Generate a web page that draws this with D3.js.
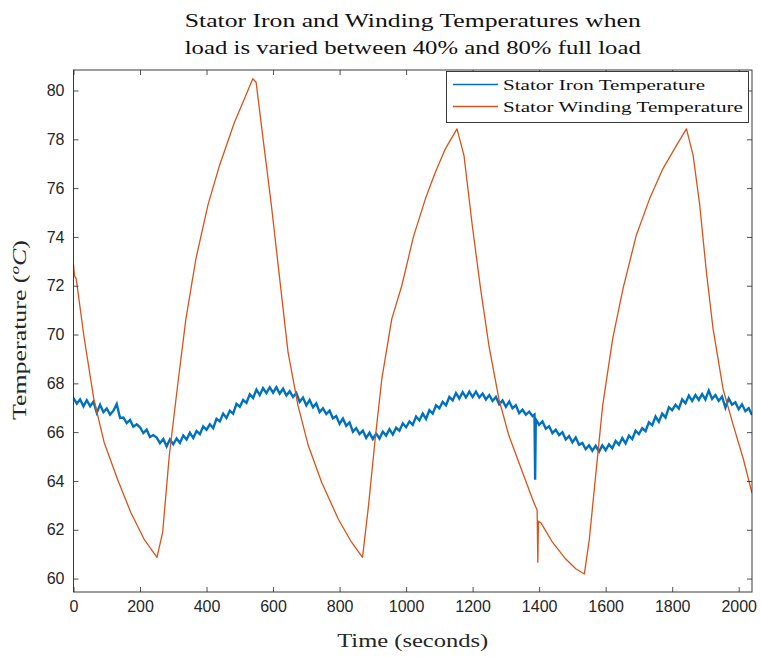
<!DOCTYPE html>
<html>
<head>
<meta charset="utf-8">
<script src="https://cdn.jsdelivr.net/npm/d3@7"></script>
<style>
body { margin:0; background:#fff; }
</style>
</head>
<body>
<svg id="chart" width="761" height="657"></svg>
<script>
var ironStart = 0, ironStep = 10;
var ironTemp = [
  67.40, 67.17, 67.34, 67.06, 67.31,  67.06, 67.25, 66.80, 67.12, 66.82,
  66.97, 66.72, 66.88, 67.15, 66.58,  66.60, 66.37, 66.50, 66.22, 66.32,
  66.20, 65.96, 66.10, 65.80, 65.88,  65.78, 65.55, 65.72, 65.42, 65.70,
  65.50, 65.74, 65.56, 65.86, 65.70,  65.98, 65.76, 66.05, 65.92, 66.24,
  66.10, 66.32, 66.16, 66.55, 66.44,  66.76, 66.58, 66.88, 66.76, 67.16,
  67.04, 67.32, 67.20, 67.55, 67.40,  67.74, 67.52, 67.80, 67.60, 67.84,
  67.62, 67.84, 67.58, 67.78, 67.50,  67.68, 67.44, 67.60, 67.24, 67.42,
  67.10, 67.32, 67.02, 67.18, 66.82,  66.98, 66.74, 66.88, 66.56, 66.66,
  66.34, 66.56, 66.26, 66.40, 66.02,  66.16, 65.92, 66.06, 65.76, 65.98,
  65.72, 65.94, 65.74, 66.02, 65.86,  66.12, 65.90, 66.18, 66.06, 66.36,
  66.20, 66.44, 66.30, 66.64, 66.48,  66.76, 66.54, 66.90, 66.76, 67.10,
  66.98, 67.24, 67.10, 67.44, 67.30,  67.60, 67.38, 67.64, 67.42, 67.66,
  67.44, 67.66, 67.42, 67.58, 67.34,  67.52, 67.28, 67.44, 67.14, 67.30,
  67.04, 67.26, 66.98, 67.10, 66.78,  66.92, 66.72, 66.84, 66.66,
  66.52, 66.30, 66.44, 66.14, 66.24, 65.96,
  66.10, 65.88, 66.00, 65.70, 65.84,  65.58, 65.78, 65.48, 65.56, 65.30,
  65.46, 65.24, 65.44, 65.20, 65.46,  65.26, 65.50, 65.34, 65.64, 65.48,
  65.76, 65.54, 65.86, 65.72, 66.06,  65.92, 66.16, 66.04, 66.40, 66.28,
  66.64, 66.42, 66.76, 66.60, 67.02,  66.90, 67.12, 66.96, 67.34, 67.18,
  67.50, 67.28, 67.52, 67.32, 67.56,  67.34, 67.70, 67.36, 67.52, 67.28,
  67.46, 67.00, 67.38, 67.12, 67.22,  66.94, 67.14, 66.86, 66.98, 66.70
];
var ironSpike = [[1386, 66.72], [1388, 64.05]];

var windingTime = [0, 3, 8, 31, 61, 92, 132, 172, 212, 251, 268, 288, 313, 338, 368, 404, 439, 484, 514, 539,
  549, 570, 595, 620, 645, 675, 706, 746, 796, 836, 869, 887, 907, 927, 957, 987, 1022, 1058, 1088, 1118, 1153,
  1174, 1199, 1224, 1249, 1279, 1309, 1350, 1380, 1394, 1396, 1398, 1405, 1440, 1480, 1511, 1536,
  1551, 1571, 1591, 1621, 1652, 1692, 1732, 1772, 1813, 1843, 1863, 1883, 1903, 1923, 1953, 1984, 2014, 2040];
var windingTemp = [72.88, 72.40, 72.30, 69.96, 67.36, 65.59, 64.08, 62.72, 61.62, 60.87, 61.89, 65.04, 67.91, 70.64, 73.10, 75.29, 76.93, 78.70, 79.66, 80.48,
  80.34, 78.02, 75.29, 72.28, 69.28, 67.09, 65.45, 63.95, 62.44, 61.49, 60.87, 62.99, 65.72, 68.18, 70.64, 72.00, 74.00, 75.56, 76.65, 77.61, 78.43,
  77.34, 74.47, 71.87, 69.55, 67.36, 65.86, 64.36, 63.26, 62.80, 60.67, 62.35, 62.29, 61.49, 60.80, 60.39, 60.19,
  61.62, 64.36, 67.09, 69.82, 71.87, 74.06, 75.56, 76.79, 77.75, 78.43, 77.34, 75.29, 72.55, 70.23, 67.77, 66.27, 64.90, 63.50];

var xTicks = [0, 200, 400, 600, 800, 1000, 1200, 1400, 1600, 1800, 2000];
var yTicks = [60, 62, 64, 66, 68, 70, 72, 74, 76, 78, 80];
var seriesNames = ["Stator Iron Temperature", "Stator Winding Temperature"];
var seriesColors = ["#0072BD", "#D95319"];
var titleLines = ["Stator Iron and Winding Temperatures when", "load is varied between 40% and 80% full load"];

var svg = d3.select("#chart");
var pL = 73.5, pT = 70, pR = 752, pB = 592;
var serif = "'Liberation Serif', 'DejaVu Serif', serif";
var sans = "'Liberation Sans', Arial, sans-serif";

var x = d3.scaleLinear().domain([0, 2040]).range([pL, pR]);
var y = d3.scaleLinear().domain([59.45, 80.84]).range([pB, pT]);

svg.append("defs").append("clipPath").attr("id", "plotclip")
  .append("rect").attr("x", pL).attr("y", pT).attr("width", pR - pL).attr("height", pB - pT);

// series
var ironPts = ironTemp.map(function(v, i) { return [ironStart + i * ironStep, v]; })
  .concat(ironSpike)
  .sort(function(a, b) { return a[0] - b[0]; });
var windPts = windingTime.map(function(t, i) { return [t, windingTemp[i]]; });

var line = d3.line().x(function(d) { return x(d[0]); }).y(function(d) { return y(d[1]); });

var plot = svg.append("g").attr("clip-path", "url(#plotclip)");
plot.append("path").datum(ironPts).attr("d", line)
  .attr("fill", "none").attr("stroke", seriesColors[0]).attr("stroke-width", 2.4).attr("stroke-linejoin", "miter");
plot.append("path").datum(windPts).attr("d", line)
  .attr("fill", "none").attr("stroke", seriesColors[1]).attr("stroke-width", 1.3).attr("stroke-linejoin", "round");

// axes, ticks inward like matlab
function styleAxis(g) {
  g.select(".domain").remove();
  g.selectAll(".tick line").attr("stroke", "#262626").attr("stroke-width", 0.8);
  g.selectAll(".tick text").attr("fill", "#262626").style("font-family", sans).style("font-size", "16px");
}
svg.append("g").attr("transform", "translate(0," + pB + ")")
  .call(d3.axisBottom(x).tickValues(xTicks).tickFormat(d3.format("d")).tickSize(-5).tickPadding(9)).call(styleAxis);
svg.append("g").attr("transform", "translate(0," + pT + ")")
  .call(d3.axisTop(x).tickValues(xTicks).tickSize(-5).tickFormat("")).call(styleAxis);
svg.append("g").attr("transform", "translate(" + pL + ",0)")
  .call(d3.axisLeft(y).tickValues(yTicks).tickSize(-5).tickPadding(9)).call(styleAxis);
svg.append("g").attr("transform", "translate(" + pR + ",0)")
  .call(d3.axisRight(y).tickValues(yTicks).tickSize(-5).tickFormat("")).call(styleAxis);

svg.append("rect").attr("x", pL).attr("y", pT).attr("width", pR - pL).attr("height", pB - pT)
  .attr("fill", "none").attr("stroke", "#262626").attr("stroke-width", 0.9);

// title
svg.selectAll(".title").data(titleLines).enter().append("text")
  .attr("class", "title")
  .attr("x", (pL + pR) / 2).attr("y", function(d, i) { return 27 + i * 27; })
  .attr("text-anchor", "middle")
  .attr("textLength", 456).attr("lengthAdjust", "spacingAndGlyphs")
  .style("font-family", serif).style("font-size", "19px").attr("fill", "#111")
  .text(function(d) { return d; });

// axis labels
svg.append("text").attr("x", (pL + pR) / 2).attr("y", 647)
  .attr("text-anchor", "middle").attr("textLength", 151).attr("lengthAdjust", "spacingAndGlyphs")
  .style("font-family", serif).style("font-size", "19px").attr("fill", "#262626")
  .text("Time (seconds)");

var ylab = svg.append("text").attr("transform", "translate(26,330) rotate(-90)")
  .attr("text-anchor", "middle").attr("textLength", 180).attr("lengthAdjust", "spacingAndGlyphs")
  .style("font-family", serif).style("font-size", "18px").attr("fill", "#262626");
ylab.append("tspan").text("Temperature (");
ylab.append("tspan").attr("dy", -7).style("font-size", "12px").style("font-style", "italic").text("o");
ylab.append("tspan").attr("dy", 7).style("font-style", "italic").text("C");
ylab.append("tspan").text(")");

// legend
var lg = svg.append("g");
lg.append("rect").attr("x", 446.5).attr("y", 71.5).attr("width", 302).attr("height", 51)
  .attr("fill", "#fff").attr("stroke", "#262626").attr("stroke-width", 0.9);
var textLens = [202, 240];
seriesNames.forEach(function(name, i) {
  var ly = 84.5 + i * 22;
  lg.append("line").attr("x1", 453).attr("x2", 498).attr("y1", ly).attr("y2", ly)
    .attr("stroke", seriesColors[i]).attr("stroke-width", 1.3);
  lg.append("text").attr("x", 503).attr("y", ly + 5)
    .attr("textLength", textLens[i]).attr("lengthAdjust", "spacingAndGlyphs")
    .style("font-family", serif).style("font-size", "15px").attr("fill", "#111")
    .text(name);
});
</script>
</body>
</html>
